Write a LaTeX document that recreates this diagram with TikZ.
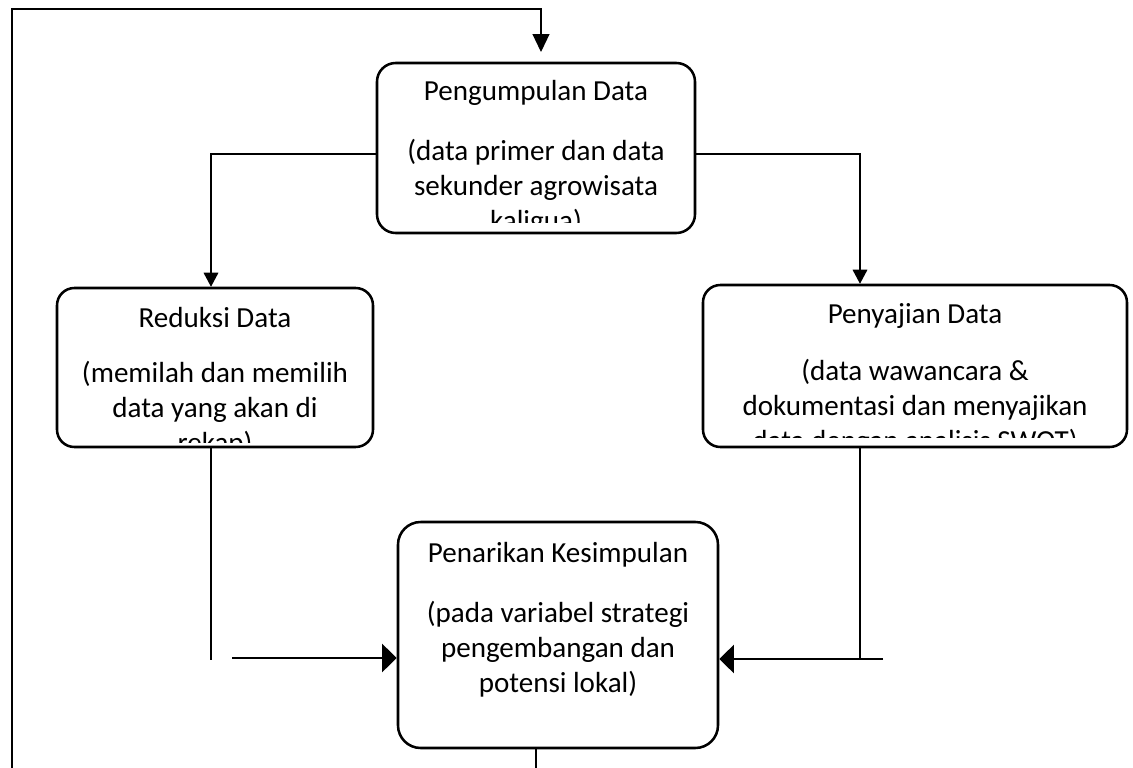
\documentclass[tikz,border=0pt]{standalone}
\usepackage{fontspec}
\setmainfont{Carlito}
\usetikzlibrary{arrows.meta,calc}
\begin{document}
\begin{tikzpicture}[x=0.75pt,y=-0.75pt,
  box/.style={draw, line width=1.9pt, inner sep=0pt},
  txt/.style={anchor=base, inner sep=0pt, font=\fontsize{21.8}{26.25}\selectfont},
  thinln/.style={line width=0.9pt},
  thinarr/.style={line width=0.9pt, -{Triangle[length=10.5pt,width=11pt]}},
  toparr/.style={line width=0.9pt, -{Triangle[length=13.5pt,width=12.75pt]}},
  thkarr/.style={line width=2.2pt, -{Triangle[length=11pt,width=21pt]}},
]
\useasboundingbox (0,0) rectangle (1133,768);

% boxes
\node[box, rounded corners=14pt, minimum width=238.5pt, minimum height=127.5pt] (pg) at (536,148) {};
\node[box, rounded corners=13pt, minimum width=237pt, minimum height=119.25pt] (rd) at (215,367.5) {};
\node[box, rounded corners=13pt, minimum width=318pt, minimum height=121.5pt] (py) at (915,366) {};
\node[box, rounded corners=17pt, minimum width=240pt, minimum height=169.5pt] (pk) at (558,635) {};

% texts (clipped like the original text areas)
\begin{scope}
\clip (377,63) rectangle (695,222);
\node[txt] (pgt) at (536,100) {\begin{tabular}[t]{@{}c@{}}Pengumpulan Data\\[18.75pt](data primer dan data\\sekunder agrowisata\\kaligua)\end{tabular}};
\end{scope}
\begin{scope}
\clip (57,288) rectangle (373,442);
\node[txt] (rdt) at (215,327) {\begin{tabular}[t]{@{}c@{}}Reduksi Data\\[15pt](memilah dan memilih\\data yang akan di\\rekap)\end{tabular}};
\end{scope}
\begin{scope}
\clip (703,285) rectangle (1127,437);
\node[txt] (pyt) at (915,323) {\begin{tabular}[t]{@{}c@{}}Penyajian Data\\[16.5pt](data wawancara \&\\dokumentasi dan menyajikan\\data dengan analisis SWOT)\end{tabular}};
\end{scope}
\node[txt] (pkt) at (558,562) {\begin{tabular}[t]{@{}c@{}}Penarikan Kesimpulan\\[18.75pt](pada variabel strategi\\pengembangan dan\\potensi lokal)\end{tabular}};

% feedback loop
\coordinate (lb) at (12,768);
\coordinate (lt) at (12,9);
\coordinate (pgin) at (541,52);
\draw[toparr] (lb) -- (lt) -| (pgin);
\coordinate (pkout) at (536,768);
\draw[thinln] (pk.south -| pkout) -- (pkout);

% from Pengumpulan to Reduksi / Penyajian
\draw[thinarr] ([yshift=-4.5pt]pg.west) -| ([xshift=-3pt]rd.north);
\draw[thinarr] ([yshift=-4.5pt]pg.east) -| ([xshift=-41.25pt]py.north);

% to Penarikan
\coordinate (rdend) at (211,660);
\draw[thinln] (rd.south -| rdend) -- (rdend);
\coordinate (ra) at (232,658);
\draw[thkarr] (ra) -- (ra -| pk.west);
\coordinate (pyend) at (860,659);
\draw[thinln] (py.south -| pyend) -- (pyend);
\coordinate (pa) at (883,659);
\draw[thkarr] (pa) -- (pa -| pk.east);
\end{tikzpicture}
\end{document}
